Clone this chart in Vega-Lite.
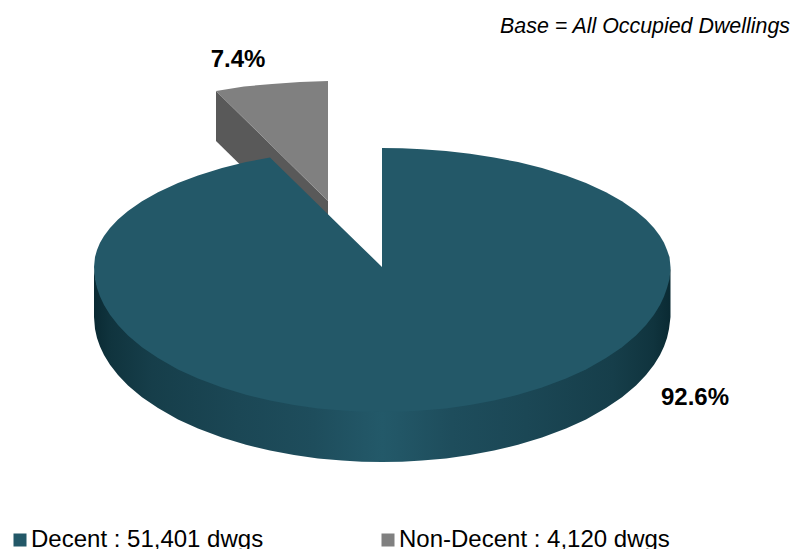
{"$schema":"https://vega.github.io/schema/vega-lite/v6.json","width":790,"height":549,"padding":0,"autosize":"none","background":"white","view":{"stroke":null},
"datasets":{
"side":[{"x":-166,"top":176,"bottom":126},{"x":-54,"top":66,"bottom":16}],
"nondecent":[{"series":"Non-Decent : 4,120 dwgs","x":-166,"top":176,"bottom":176},{"series":"Non-Decent : 4,120 dwgs","x":-138,"top":180.5,"bottom":148.5},{"series":"Non-Decent : 4,120 dwgs","x":-110,"top":183,"bottom":121},{"series":"Non-Decent : 4,120 dwgs","x":-82,"top":185,"bottom":93.5},{"series":"Non-Decent : 4,120 dwgs","x":-54,"top":186,"bottom":66}],
"rim":[{"x":-288,"top":0,"bottom":-50},{"x":-287,"top":-9.1,"bottom":-62.1},{"x":-285,"top":-17.9,"bottom":-70.9},{"x":-282,"top":-26.4,"bottom":-79.4},{"x":-278,"top":-34.9,"bottom":-87.9},{"x":-272,"top":-44.7,"bottom":-97.7},{"x":-264,"top":-55,"bottom":-108},{"x":-254,"top":-65.4,"bottom":-118.4},{"x":-240,"top":-77.2,"bottom":-130.2},{"x":-224,"top":-88.1,"bottom":-141.1},{"x":-204,"top":-99.4,"bottom":-152.4},{"x":-184,"top":-108.5,"bottom":-161.5},{"x":-160,"top":-117.6,"bottom":-170.6},{"x":-136,"top":-124.8,"bottom":-177.8},{"x":-112,"top":-130.6,"bottom":-183.6},{"x":-88,"top":-135.1,"bottom":-188.1},{"x":-64,"top":-138.4,"bottom":-191.4},{"x":-40,"top":-140.6,"bottom":-193.6},{"x":-20,"top":-141.7,"bottom":-194.7},{"x":0,"top":-142,"bottom":-195},{"x":20,"top":-141.7,"bottom":-194.7},{"x":40,"top":-140.6,"bottom":-193.6},{"x":64,"top":-138.4,"bottom":-191.4},{"x":88,"top":-135.1,"bottom":-188.1},{"x":112,"top":-130.6,"bottom":-183.6},{"x":136,"top":-124.8,"bottom":-177.8},{"x":160,"top":-117.6,"bottom":-170.6},{"x":184,"top":-108.5,"bottom":-161.5},{"x":204,"top":-99.4,"bottom":-152.4},{"x":224,"top":-88.1,"bottom":-141.1},{"x":240,"top":-77.2,"bottom":-130.2},{"x":254,"top":-65.4,"bottom":-118.4},{"x":264,"top":-55,"bottom":-108},{"x":272,"top":-44.7,"bottom":-97.7},{"x":278,"top":-34.9,"bottom":-87.9},{"x":282,"top":-26.4,"bottom":-79.4},{"x":285,"top":-17.9,"bottom":-70.9},{"x":287,"top":-9.1,"bottom":-62.1},{"x":288.5,"top":0,"bottom":-50}],
"decent":[{"part":"a","x":-288,"top":0,"bottom":0},{"part":"a","x":-287,"top":9.9,"bottom":-12.1},{"part":"a","x":-285,"top":17.1,"bottom":-20.9},{"part":"a","x":-282,"top":24.2,"bottom":-29.4},{"part":"a","x":-278,"top":31.1,"bottom":-37.9},{"part":"a","x":-272,"top":39.1,"bottom":-47.7},{"part":"a","x":-264,"top":47.6,"bottom":-58},{"part":"a","x":-254,"top":56.1,"bottom":-68.4},{"part":"a","x":-240,"top":65.8,"bottom":-80.2},{"part":"a","x":-224,"top":74.8,"bottom":-91.1},{"part":"a","x":-204,"top":84,"bottom":-102.4},{"part":"a","x":-184,"top":91.5,"bottom":-111.5},{"part":"a","x":-160,"top":98.9,"bottom":-120.6},{"part":"a","x":-136,"top":104.9,"bottom":-127.8},{"part":"a","x":-112,"top":109.6,"bottom":-133.6},{"part":"a","x":-88,"top":86.1,"bottom":-138.1},{"part":"a","x":-64,"top":62.6,"bottom":-141.4},{"part":"a","x":-40,"top":39.1,"bottom":-143.6},{"part":"a","x":-20,"top":19.6,"bottom":-144.7},{"part":"a","x":0,"top":0,"bottom":-145},{"part":"b","x":0,"top":119,"bottom":-145},{"part":"b","x":20,"top":118.7,"bottom":-144.7},{"part":"b","x":40,"top":117.8,"bottom":-143.6},{"part":"b","x":64,"top":116,"bottom":-141.4},{"part":"b","x":88,"top":113.3,"bottom":-138.1},{"part":"b","x":112,"top":109.6,"bottom":-133.6},{"part":"b","x":136,"top":104.9,"bottom":-127.8},{"part":"b","x":160,"top":98.9,"bottom":-120.6},{"part":"b","x":184,"top":91.5,"bottom":-111.5},{"part":"b","x":204,"top":84,"bottom":-102.4},{"part":"b","x":224,"top":74.8,"bottom":-91.1},{"part":"b","x":240,"top":65.8,"bottom":-80.2},{"part":"b","x":254,"top":56.1,"bottom":-68.4},{"part":"b","x":264,"top":47.6,"bottom":-58},{"part":"b","x":272,"top":39.1,"bottom":-47.7},{"part":"b","x":278,"top":31.1,"bottom":-37.9},{"part":"b","x":282,"top":24.2,"bottom":-29.4},{"part":"b","x":285,"top":17.1,"bottom":-20.9},{"part":"b","x":287.5,"top":9.9,"bottom":-12.1},{"part":"b","x":288.5,"top":0,"bottom":0}],
"shares":[{"label":"7.4%","x":-144,"y":207},{"label":"92.6%","x":313,"y":-131}],
"note":[{"text":"Base = All Occupied Dwellings","x":408,"y":240.5}]
},
"encoding":{
"x":{"field":"x","type":"quantitative","scale":{"domain":[-382,408],"nice":false,"zero":false},"axis":null},
"y":{"field":"top","type":"quantitative","scale":{"domain":[-282,267],"nice":false,"zero":false},"axis":null},
"y2":{"field":"bottom"}
},
"layer":[
{"data":{"name":"side"},"mark":{"type":"area","color":"#595959"}},
{"data":{"name":"nondecent"},"mark":{"type":"area"},"encoding":{"color":{"field":"series","type":"nominal","scale":{"domain":["Decent : 51,401 dwgs","Non-Decent : 4,120 dwgs"],"range":["#235868","#808080"]},"legend":{"title":null,"orient":"none","legendX":8,"legendY":527,"padding":0,"direction":"horizontal","columns":2,"columnPadding":112,"symbolType":"square","symbolSize":169,"symbolOpacity":1,"symbolStrokeWidth":0,"labelFont":"Liberation Sans","labelFontSize":24,"labelColor":"#000000","labelOffset":-1,"labelLimit":400,"clipHeight":26,"rowPadding":0}}}},
{"data":{"name":"rim"},"mark":{"type":"area","color":{"gradient":"linear","x1":0,"y1":0,"x2":1,"y2":0,"stops":[{"offset":0,"color":"#0a2a33"},{"offset":0.03,"color":"#10343e"},{"offset":0.1,"color":"#163e4a"},{"offset":0.25,"color":"#1b4755"},{"offset":0.38,"color":"#1e4d5c"},{"offset":0.47,"color":"#225666"},{"offset":0.5,"color":"#235969"},{"offset":0.53,"color":"#225666"},{"offset":0.62,"color":"#1e4d5c"},{"offset":0.75,"color":"#1b4755"},{"offset":0.9,"color":"#163e4a"},{"offset":0.97,"color":"#10343e"},{"offset":1,"color":"#0a2a33"}]}}},
{"data":{"name":"decent"},"mark":{"type":"area"},"encoding":{"detail":{"field":"part"},"color":{"datum":"Decent : 51,401 dwgs","type":"nominal"}}},
{"data":{"name":"shares"},"mark":{"type":"text","font":"Liberation Sans","fontSize":24,"fontWeight":"bold","color":"#000000","align":"center","baseline":"middle"},"encoding":{"y":{"field":"y","type":"quantitative"},"y2":null,"text":{"field":"label"}}},
{"data":{"name":"note"},"mark":{"type":"text","font":"Liberation Sans","fontSize":21.4,"fontStyle":"italic","color":"#000000","align":"right","baseline":"middle"},"encoding":{"y":{"field":"y","type":"quantitative"},"y2":null,"text":{"field":"text"}}}
]}
